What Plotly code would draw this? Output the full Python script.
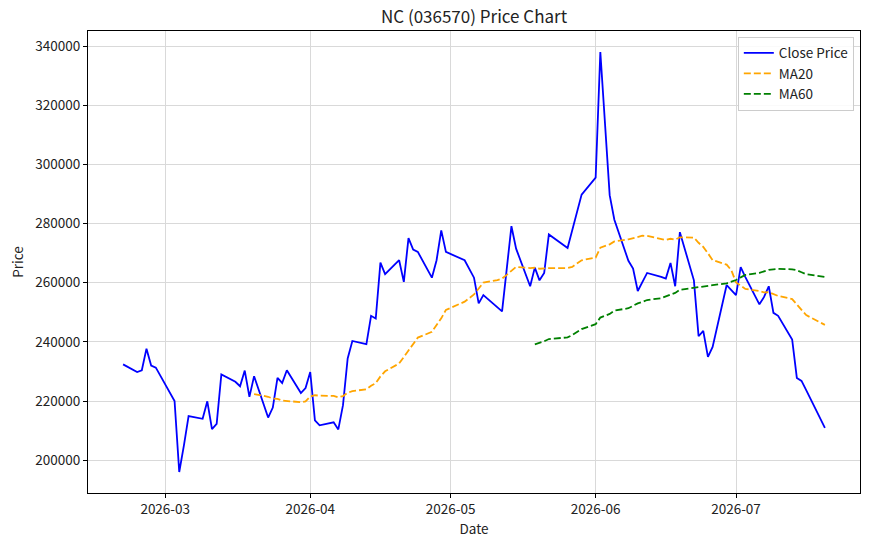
import pandas as pd
import plotly.graph_objects as go

dates = [
    "2026-02-20", "2026-02-23", "2026-02-24", "2026-02-25", "2026-02-26", "2026-02-27",
    "2026-03-03", "2026-03-04", "2026-03-05", "2026-03-06",
    "2026-03-09", "2026-03-10", "2026-03-11", "2026-03-12", "2026-03-13",
    "2026-03-16", "2026-03-17", "2026-03-18", "2026-03-19", "2026-03-20",
    "2026-03-23", "2026-03-24", "2026-03-25", "2026-03-26", "2026-03-27",
    "2026-03-30", "2026-03-31", "2026-04-01", "2026-04-02", "2026-04-03",
    "2026-04-06", "2026-04-07", "2026-04-08", "2026-04-09", "2026-04-10",
    "2026-04-13", "2026-04-14", "2026-04-15", "2026-04-16", "2026-04-17",
    "2026-04-20", "2026-04-21", "2026-04-22", "2026-04-23", "2026-04-24",
    "2026-04-27", "2026-04-28", "2026-04-29", "2026-04-30",
    "2026-05-04", "2026-05-06", "2026-05-07", "2026-05-08",
    "2026-05-11", "2026-05-12", "2026-05-13", "2026-05-14", "2026-05-15",
    "2026-05-18", "2026-05-19", "2026-05-20", "2026-05-21", "2026-05-22",
    "2026-05-26", "2026-05-27", "2026-05-28", "2026-05-29",
    "2026-06-01", "2026-06-02", "2026-06-04", "2026-06-05",
    "2026-06-08", "2026-06-09", "2026-06-10", "2026-06-11", "2026-06-12",
    "2026-06-15", "2026-06-16", "2026-06-17", "2026-06-18", "2026-06-19",
    "2026-06-22", "2026-06-23", "2026-06-24", "2026-06-25", "2026-06-26",
    "2026-06-29", "2026-06-30", "2026-07-01", "2026-07-02", "2026-07-03",
    "2026-07-06", "2026-07-07", "2026-07-08", "2026-07-09", "2026-07-10",
    "2026-07-13", "2026-07-14", "2026-07-15", "2026-07-16",
    "2026-07-20",
]

close = [
    232400, 229800, 230400, 237700, 232000, 231300,
    220000, 196000, 205000, 214900,
    214000, 219900, 210500, 212300, 229000,
    226500, 225000, 230300, 221400, 228400,
    214400, 217800, 227800, 226100, 230400,
    222700, 224400, 229800, 213500, 211800,
    212800, 210400, 218600, 234400, 240300,
    239200, 248800, 247900, 266800, 262900,
    267600, 260300, 275100, 271200, 270400,
    261700, 267600, 277700, 270400,
    267600, 261700, 253000, 255800,
    251700, 250300, 264700, 279100, 271500,
    258800, 265100, 260800, 263300, 276300,
    271700, 278000, 284500, 289800,
    295500, 338000, 289600, 281300,
    267400, 264800, 257200, 260300, 263300,
    262000, 261400, 266700, 258800, 277100,
    260800, 241900, 243700, 234900, 238300,
    259200, 257500, 255800, 265300, 261900,
    252700, 255200, 258800, 249800, 248800,
    240800, 227800, 226800, 223700,
    210900,
]

y_ticks = [200000, 220000, 240000, 260000, 280000, 300000, 320000, 340000]
x_ticks = ["2026-03-01", "2026-04-01", "2026-05-01", "2026-06-01", "2026-07-01"]
x_tick_text = ["2026-03", "2026-04", "2026-05", "2026-06", "2026-07"]

df = pd.DataFrame({"date": pd.to_datetime(dates), "close": close})
df["ma20"] = df["close"].rolling(20).mean()
df["ma60"] = df["close"].rolling(60).mean()

FONT = "Noto Sans CJK KR, Noto Sans, DejaVu Sans, sans-serif"

fig = go.Figure()
fig.add_trace(go.Scatter(x=df["date"], y=df["close"], mode="lines", name="Close Price",
                         line=dict(color="#0000ff", width=1.8)))
fig.add_trace(go.Scatter(x=df["date"], y=df["ma20"], mode="lines", name="MA20",
                         line=dict(color="#ffa500", width=1.8, dash="7px,3px")))
fig.add_trace(go.Scatter(x=df["date"], y=df["ma60"], mode="lines", name="MA60",
                         line=dict(color="#008000", width=1.8, dash="7px,3px")))

dmin, dmax = df["date"].min(), df["date"].max()
xpad = (dmax - dmin) * 0.05
vmin, vmax = min(close), max(close)
ypad = (vmax - vmin) * 0.05

fig.update_layout(
    width=872, height=546,
    margin=dict(l=88, r=12, t=31, b=53),
    paper_bgcolor="white", plot_bgcolor="white",
    font=dict(family=FONT, size=13.5, color="#222"),
    title=dict(text="NC (036570) Price Chart", x=0.5, xref="paper", xanchor="center",
               y=0.968, yanchor="middle", font=dict(size=17, color="#222")),
    showlegend=True,
    legend=dict(x=0.992, y=0.988, xanchor="right", yanchor="top",
                bgcolor="rgba(255,255,255,0.85)", bordercolor="#cccccc", borderwidth=1,
                font=dict(size=13.5, color="#222"), itemwidth=30, tracegroupgap=0),
)
fig.update_xaxes(
    range=[dmin - xpad, dmax + xpad],
    tickvals=pd.to_datetime(x_ticks), ticktext=x_tick_text,
    showgrid=True, gridcolor="#d9d9d9", gridwidth=1,
    showline=True, linecolor="black", linewidth=1, mirror=True,
    ticks="outside", ticklen=4, tickcolor="black",
    title=dict(text="Date", standoff=4, font=dict(size=13.5)),
    zeroline=False,
)
fig.update_yaxes(
    range=[vmin - ypad, vmax + ypad],
    tickvals=y_ticks, tickformat="d",
    showgrid=True, gridcolor="#d9d9d9", gridwidth=1,
    showline=True, linecolor="black", linewidth=1, mirror=True,
    ticks="outside", ticklen=4, tickcolor="black",
    title=dict(text="Price", standoff=8, font=dict(size=13.5)),
    zeroline=False,
)

fig.write_html("out.html")
